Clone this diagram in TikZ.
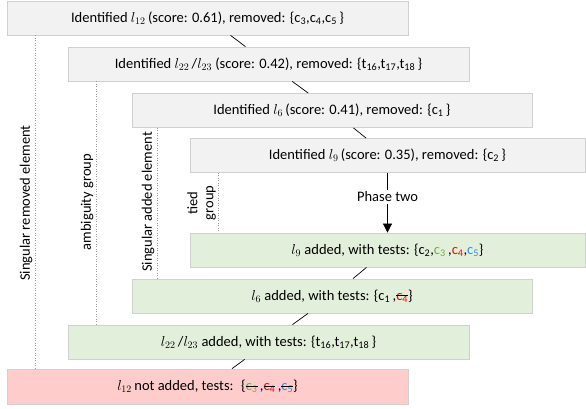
\documentclass[tikz,border=0pt]{standalone}
\usepackage{fontspec}
\setmainfont{Carlito}
\usetikzlibrary{arrows.meta}
\definecolor{boxgray}{HTML}{F2F2F2}
\definecolor{boxgreen}{HTML}{E2EFDA}
\definecolor{boxred}{HTML}{FFCCCC}
\definecolor{edgegray}{HTML}{D0D0D0}
\definecolor{cgreen}{HTML}{70AD47}
\definecolor{cred}{HTML}{FF0000}
\definecolor{cblue}{HTML}{2E8FE0}
\newlength\strklen
\newcommand\strk[1]{\settowidth\strklen{#1}\rlap{#1}\rule[0.6ex]{\strklen}{0.6pt}}
\newcommand\cc[1]{c\textsubscript{#1}}
\newcommand\tsub[1]{t\textsubscript{#1}}
\newcommand\ml[1]{$l_{#1}$}
\begin{document}
\begin{tikzpicture}[x=1pt,y=-1pt,
  box/.style={draw=edgegray, line width=0.8pt, minimum height=34pt, inner sep=0pt,
    font=\fontsize{14.5}{17}\selectfont},
  graybox/.style={box, fill=boxgray},
  greenbox/.style={box, fill=boxgreen},
  redbox/.style={box, fill=boxred},
  dotline/.style={draw=gray!80, dotted, line width=0.5pt},
  sidelabel/.style={rotate=90, inner sep=0pt, font=\fontsize{14.5}{17}\selectfont},
  conn/.style={draw=black, line width=0.7pt},
  arrowconn/.style={conn, -{Triangle[length=9pt,width=9pt]}}
]
\useasboundingbox (0,0) rectangle (586,409);

\node[graybox, minimum width=401pt] (b1) at (207.5,18) {Identified \ml{12}\,(score: 0.61), removed: \{\cc3,\cc4,\cc5\,\}};
\node[graybox, minimum width=401pt] (b2) at (268.5,64) {Identified \ml{22}\,/\ml{23} (score: 0.42), removed: \{\tsub{16},\tsub{17},\tsub{18}\,\}};
\node[graybox, minimum width=400pt] (b3) at (332,110.5) {Identified \ml{6}\,(score: 0.41), removed: \{\cc1\,\}};
\node[graybox, minimum width=395pt] (b4) at (387.5,155.5) {Identified \ml{9}\,(score: 0.35), removed: \{\cc2\,\}};
\node[greenbox, minimum width=395pt] (b5) at (387.5,250) {\ml{9} added, with tests: \{\cc2,\textcolor{cgreen}{\cc3}\,,\textcolor{cred}{\cc4},\textcolor{cblue}{\cc5}\}};
\node[greenbox, minimum width=400pt] (b6) at (332,296) {\ml{6} added, with tests: \{\cc1\,,\strk{\textcolor{cred}{\cc4}}\}};
\node[greenbox, minimum width=401pt] (b7) at (268.5,342) {\ml{22}\,/\ml{23} added, with tests: \{\tsub{16},\tsub{17},\tsub{18}\,\}};
\node[redbox, minimum width=401pt, minimum height=35pt] (b8) at (207.5,386.5) {\ml{12}\,not added, tests: \ \{\strk{\textcolor{cgreen}{\cc3}}\,,\strk{\textcolor{cred}{\cc4}}\,,\strk{\textcolor{cblue}{\cc5}}\}};

\draw[conn] (b1) -- (b2);
\draw[conn] (b2) -- (b3);
\draw[conn] (b3) -- (b4);
\draw[arrowconn] (b4) -- node[fill=white, pos=0.4, inner sep=2pt, font=\fontsize{14.5}{17}\selectfont] (ph) {Phase two} (b5);
\draw[conn] (b5) -- (b6);
\draw[conn] (b6) -- (b7);
\draw[conn] (b7) -- (b8);

\draw[dotline] ([xshift=29pt]b1.south west) -- ([xshift=29pt]b8.north west);
\draw[dotline] ([xshift=29pt]b2.south west) -- ([xshift=29pt]b7.north west);
\draw[dotline] ([xshift=26pt]b3.south west) -- ([xshift=26pt]b6.north west);
\draw[dotline] ([xshift=29pt]b4.south west) -- ([xshift=29pt]b5.north west);

\node[sidelabel] (l1) at (26,203) {Singular removed element};
\node[sidelabel] (l2) at (87,202) {ambiguity group};
\node[sidelabel] (l3) at (148,202) {Singular added element};
\node[sidelabel, align=center, font=\fontsize{14.5}{16}\selectfont] (l4) at (201.5,203) {tied\\group};
\end{tikzpicture}
\end{document}
